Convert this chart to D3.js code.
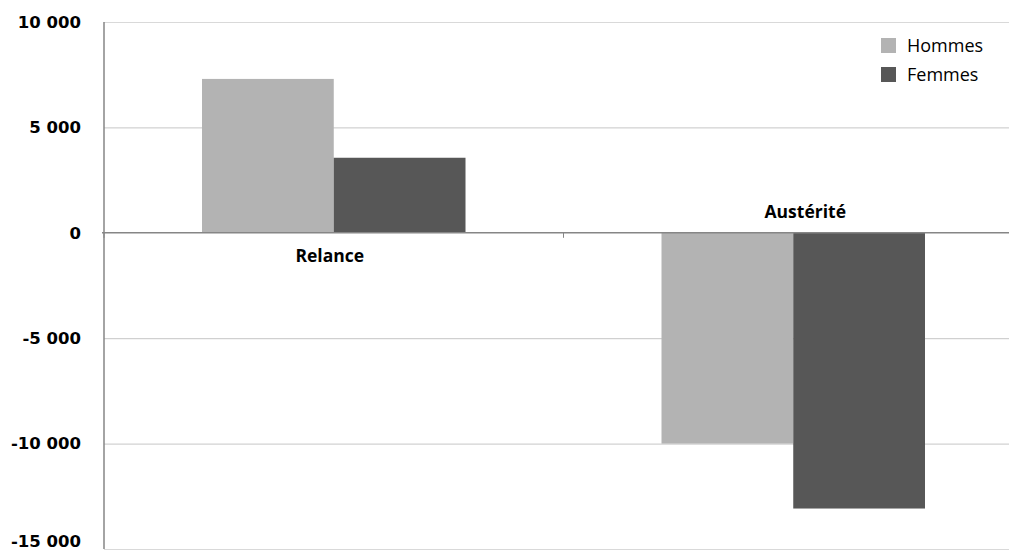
<!DOCTYPE html>
<html><head><meta charset="utf-8">
<script src="https://cdn.jsdelivr.net/npm/d3@7"></script>
<style>html,body{margin:0;padding:0;background:#fff;}svg{display:block;}</style>
</head><body>
<script>
const categories = ["Relance", "Austérité"];
const seriesNames = ["Hommes", "Femmes"];
const hommes = [7300, -10000];
const femmes = [3560, -13080];
const yTicks = [10000, 5000, 0, -5000, -10000, -15000];
const yTickLabels = ["10 000", "5 000", "0", "-5 000", "-10 000", "-15 000"];
const colors = ["#b3b3b3", "#575757"];

(function () {
const W = 1009, H = 554;
const svg = d3.select("body").append("svg").attr("width", W).attr("height", H);

const pL = 104, pR = 1023, pT = 22, pB = 549;
const y = d3.scaleLinear().domain([-15000, 10000]).range([pB, pT]);
const x0 = d3.scaleBand().domain(categories).range([pL, pR]).paddingInner(0).paddingOuter(0);
const innerPad = 98 / 459.5;
const x1 = d3.scaleBand().domain(seriesNames).range([x0.bandwidth() * innerPad, x0.bandwidth() * (1 - innerPad)]);

// gridlines
svg.append("g").selectAll("line").data(yTicks.filter(d => d !== 0)).join("line")
  .attr("x1", pL).attr("x2", pR)
  .attr("y1", d => y(d) + 0.5).attr("y2", d => y(d) + 0.5)
  .attr("stroke", d => (d === 10000 || d === -15000) ? "#d9d9d9" : "#c6c6c6")
  .attr("stroke-width", 1);

// bars
const data = categories.map((c, i) => ({cat: c, vals: [hommes[i], femmes[i]]}));
const g = svg.append("g");
data.forEach(d => {
  g.append("g").attr("transform", `translate(${x0(d.cat)},0)`)
    .selectAll("rect").data(d.vals.map((v, j) => ({v, s: seriesNames[j], j}))).join("rect")
    .attr("x", e => x1(e.s)).attr("width", x1.bandwidth())
    .attr("y", e => y(Math.max(0, e.v)))
    .attr("height", e => Math.abs(y(e.v) - y(0)))
    .attr("fill", e => colors[e.j]);
});

// y axis line
svg.append("line").attr("x1", pL).attr("x2", pL).attr("y1", pT).attr("y2", pB)
  .attr("stroke", "#868686").attr("stroke-width", 1.5);

// zero line (category axis)
svg.append("line").attr("x1", pL - 2).attr("x2", pR).attr("y1", y(0)).attr("y2", y(0))
  .attr("stroke", "#868686").attr("stroke-width", 1.5);
const boundaries = [pL, x0("Austérité"), pR];
svg.append("g").selectAll("line").data(boundaries).join("line")
  .attr("x1", d => d).attr("x2", d => d).attr("y1", y(0)).attr("y2", y(0) + 5)
  .attr("stroke", "#868686").attr("stroke-width", 1);

// y tick labels
svg.append("g").selectAll("text").data(yTicks).join("text")
  .attr("x", 81).attr("y", d => Math.min(y(d), 541)).attr("dy", "0.35em")
  .attr("text-anchor", "end")
  .attr("font-family", "DejaVu Sans").attr("font-weight", "bold").attr("font-size", 16.5)
  .attr("fill", "#000")
  .text((d, i) => yTickLabels[i]);

// category labels
const catLabelPos = [{dx: -4, y: y(0) + 29}, {dx: 12, y: y(0) - 15}];
svg.append("g").selectAll("text").data(categories).join("text")
  .attr("x", (d, i) => x0(d) + x0.bandwidth() / 2 + catLabelPos[i].dx)
  .attr("y", (d, i) => catLabelPos[i].y)
  .attr("text-anchor", "middle")
  .attr("font-family", "Open Sans").attr("font-weight", "bold").attr("font-size", 17.5)
  .attr("fill", "#000")
  .text(d => d);

// legend
const leg = svg.append("g");
seriesNames.forEach((s, i) => {
  leg.append("rect").attr("x", 881).attr("y", 38 + i * 29).attr("width", 15).attr("height", 15).attr("fill", colors[i]);
  leg.append("text").attr("x", 907).attr("y", 52 + i * 29)
    .attr("font-family", "Open Sans").attr("font-size", 18).attr("fill", "#000").text(s);
});
})();
</script>
</body></html>
